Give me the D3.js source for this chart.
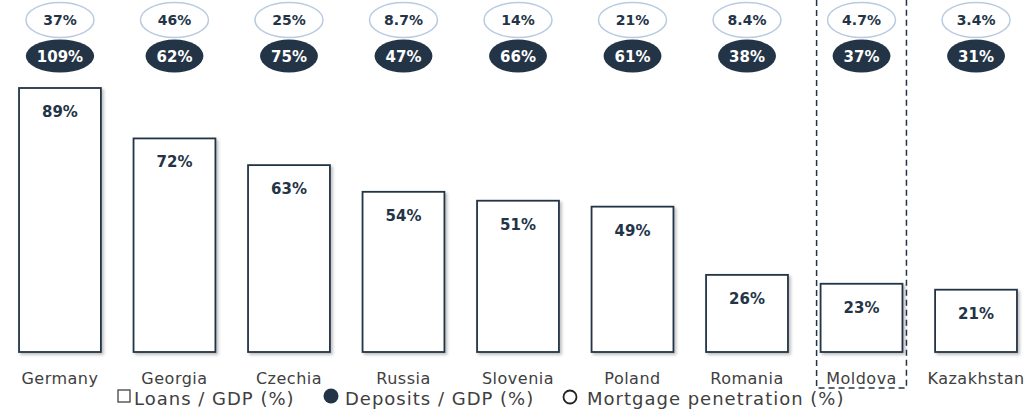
<!DOCTYPE html>
<html>
<head>
<meta charset="utf-8">
<script src="https://cdn.jsdelivr.net/npm/d3@7"></script>
<style>
  body { margin: 0; background: #fff; }
  svg { font-family: "DejaVu Sans", "Lato", sans-serif; }
</style>
</head>
<body>
<svg id="chart"></svg>
<script>
const countries = ['Germany', 'Georgia', 'Czechia', 'Russia', 'Slovenia', 'Poland', 'Romania', 'Moldova', 'Kazakhstan'];
const loans = [89, 72, 63, 54, 51, 49, 26, 23, 21];
const deposits = ['109%', '62%', '75%', '47%', '66%', '61%', '38%', '37%', '31%'];
const mortgage = ['37%', '46%', '25%', '8.7%', '14%', '21%', '8.4%', '4.7%', '3.4%'];
const legendItems = ['Loans / GDP (%)', 'Deposits / GDP (%)', 'Mortgage penetration (%)'];
const highlight = 'Moldova';

const width = 1036, height = 414;
const navy = '#243447';
const svg = d3.select('#chart').attr('width', width).attr('height', height);

const defs = svg.append('defs');
const shadow = defs.append('filter').attr('id', 'shadow').attr('x', '-10%').attr('y', '-10%').attr('width', '130%').attr('height', '130%');
shadow.append('feDropShadow').attr('dx', 2).attr('dy', 2).attr('stdDeviation', 1.5).attr('flood-color', '#000').attr('flood-opacity', 0.25);

const x = d3.scaleBand().domain(countries).range([3, 1033]).paddingInner(0.285).paddingOuter(0.14);
const y = d3.scaleLinear().domain([0, 89]).range([352, 88]);

// bars
svg.append('g').selectAll('rect')
    .data(countries)
    .join('rect')
    .attr('x', d => x(d))
    .attr('y', (d, i) => y(loans[i]))
    .attr('width', x.bandwidth())
    .attr('height', (d, i) => y(0) - y(loans[i]))
    .attr('fill', '#fff')
    .attr('stroke', navy)
    .attr('stroke-width', 1.8)
    .attr('filter', 'url(#shadow)');

svg.append('g').selectAll('text')
    .data(countries)
    .join('text')
    .attr('x', d => x(d) + x.bandwidth() / 2)
    .attr('y', (d, i) => y(loans[i]) + 29)
    .attr('text-anchor', 'middle')
    .attr('font-size', 15)
    .attr('font-weight', 'bold')
    .attr('fill', navy)
    .text((d, i) => loans[i] + '%');

// category labels
svg.append('g').selectAll('text')
    .data(countries)
    .join('text')
    .attr('x', d => x(d) + x.bandwidth() / 2)
    .attr('y', 384)
    .attr('text-anchor', 'middle')
    .attr('font-size', 16)
    .attr('letter-spacing', 0.5)
    .attr('fill', '#404040')
    .text(d => d);

// mortgage ellipses
const mg = svg.append('g').selectAll('g')
    .data(countries)
    .join('g')
    .attr('transform', d => 'translate(' + (x(d) + x.bandwidth() / 2) + ',20)');
mg.append('ellipse')
    .attr('rx', 34).attr('ry', 17.5)
    .attr('fill', '#fff')
    .attr('stroke', '#b8cbe0')
    .attr('stroke-width', 1.5);
mg.append('text')
    .attr('text-anchor', 'middle')
    .attr('dy', 5)
    .attr('font-size', 14)
    .attr('font-weight', 'bold')
    .attr('fill', navy)
    .text((d, i) => mortgage[i]);

// deposit ellipses
const dg = svg.append('g').selectAll('g')
    .data(countries)
    .join('g')
    .attr('transform', d => 'translate(' + (x(d) + x.bandwidth() / 2) + ',56)');
dg.append('ellipse')
    .attr('ry', 16.5)
    .attr('fill', navy);
dg.append('text')
    .attr('text-anchor', 'middle')
    .attr('dy', 5.5)
    .attr('font-size', 15)
    .attr('font-weight', 'bold')
    .attr('fill', '#fff')
    .text((d, i) => deposits[i]);
dg.each(function() {
    let w = d3.select(this).select('text').node().getComputedTextLength();
    d3.select(this).select('ellipse').attr('rx', w / 2 + 11);
});

// dashed box round the highlighted country
let hx0 = x(highlight) - 4, hx1 = x(highlight) + x.bandwidth() + 4;
svg.append('path')
    .attr('d', 'M' + hx0 + ',0V388H' + hx1 + 'V0')
    .attr('fill', 'none')
    .attr('stroke', navy)
    .attr('stroke-width', 1.5)
    .attr('stroke-dasharray', '6,4');

// legend
const lg = svg.append('g').attr('font-size', 18).attr('letter-spacing', 1).attr('fill', '#404040');
lg.append('rect').attr('x', 118).attr('y', 390).attr('width', 12).attr('height', 12)
    .attr('fill', '#fff').attr('stroke', '#333').attr('stroke-width', 1.2);
lg.append('text').attr('x', 134).attr('y', 405).text(legendItems[0]);
lg.append('circle').attr('cx', 331).attr('cy', 396).attr('r', 7.5).attr('fill', navy);
lg.append('text').attr('x', 345).attr('y', 405).text(legendItems[1]);
lg.append('circle').attr('cx', 570).attr('cy', 397).attr('r', 6.5).attr('fill', '#fff')
    .attr('stroke', '#222').attr('stroke-width', 1.8);
lg.append('text').attr('x', 587).attr('y', 405).text(legendItems[2]);
</script>
</body>
</html>
